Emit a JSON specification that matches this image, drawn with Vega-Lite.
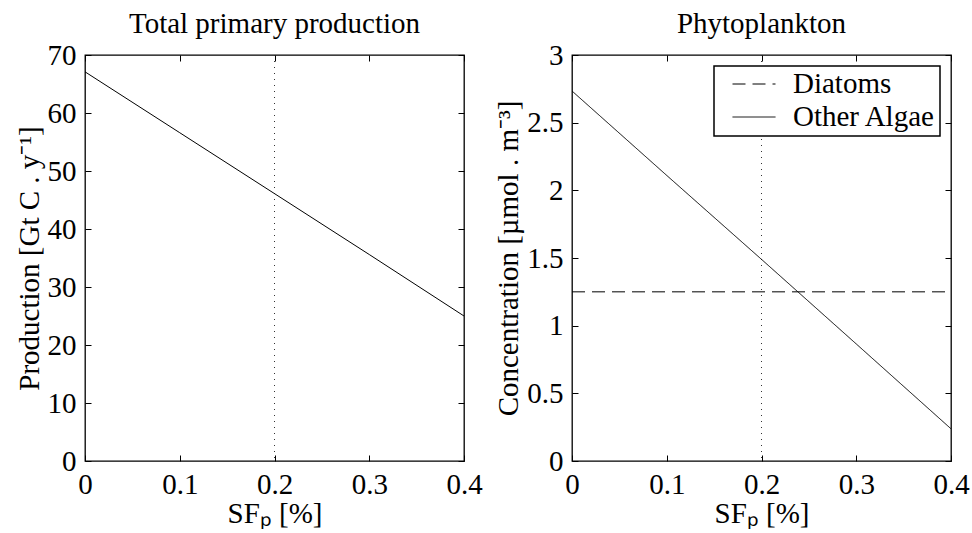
{
  "$schema": "https://vega.github.io/schema/vega-lite/v6.json",
  "background": "white",
  "padding": {"left": 14, "top": 9, "right": 0, "bottom": 0},
  "bounds": "flush",
  "spacing": 108,
  "resolve": {"scale": {"strokeDash": "independent"}, "legend": {"strokeDash": "independent"}},
  "datasets": {
    "prod": [
      {"sf": 0.0, "value": 67.1},
      {"sf": 0.1, "value": 56.6},
      {"sf": 0.2, "value": 46.1},
      {"sf": 0.3, "value": 35.6},
      {"sf": 0.4, "value": 25.0}
    ],
    "phyto": [
      {"sf": 0.0, "value": 1.25, "series": "Diatoms"},
      {"sf": 0.4, "value": 1.25, "series": "Diatoms"},
      {"sf": 0.0, "value": 2.734, "series": "Other Algae"},
      {"sf": 0.1, "value": 2.11, "series": "Other Algae"},
      {"sf": 0.2, "value": 1.49, "series": "Other Algae"},
      {"sf": 0.3, "value": 0.865, "series": "Other Algae"},
      {"sf": 0.4, "value": 0.238, "series": "Other Algae"}
    ],
    "ref": [{"sf": 0.2}]
  },
  "config": {
    "font": "Liberation Serif",
    "view": {"stroke": "black", "strokeWidth": 1.3},
    "axis": {
      "domain": false,
      "grid": false,
      "tickColor": "black",
      "tickSize": -6,
      "tickWidth": 1,
      "labelFont": "Liberation Serif",
      "labelFontSize": 29,
      "labelColor": "black",
      "labelPadding": 15,
      "format": "~r",
      "titleFont": "Liberation Serif",
      "titleFontSize": 29,
      "titleFontWeight": "normal",
      "titleColor": "black"
    },
    "title": {"font": "Liberation Serif", "fontSize": 29, "fontWeight": "normal", "color": "black", "offset": 2}
  },
  "hconcat": [
    {
      "width": 379,
      "height": 406,
      "title": "Total primary production",
      "layer": [
        {
          "data": {"name": "ref"},
          "mark": {"type": "rule", "color": "#333333", "strokeWidth": 1, "strokeDash": [1, 5]},
          "encoding": {
            "x": {"field": "sf", "type": "quantitative", "scale": {"domain": [0, 0.4]},
                  "axis": {"orient": "top", "labels": false, "title": null, "values": [0, 0.1, 0.2, 0.3, 0.4]}}
          }
        },
        {
          "data": {"name": "prod"},
          "mark": {"type": "line", "color": "black", "strokeWidth": 1},
          "encoding": {
            "x": {"field": "sf", "type": "quantitative", "scale": {"domain": [0, 0.4]},
                  "axis": {"orient": "bottom", "title": "SFₚ [%]", "values": [0, 0.1, 0.2, 0.3, 0.4], "labelFlush": false, "titlePadding": 0}},
            "y": {"field": "value", "type": "quantitative", "scale": {"domain": [0, 70]},
                  "axis": {"orient": "left", "title": "Production [Gt C . y⁻¹]", "values": [0, 10, 20, 30, 40, 50, 60, 70], "labelFlush": false, "titlePadding": 3}}
          }
        },
        {
          "data": {"name": "prod"},
          "mark": {"type": "line", "opacity": 0},
          "encoding": {
            "x": {"field": "sf", "type": "quantitative", "axis": null},
            "y": {"field": "value", "type": "quantitative",
                  "axis": {"orient": "right", "labels": false, "title": null, "values": [0, 10, 20, 30, 40, 50, 60, 70]}}
          }
        }
      ]
    },
    {
      "width": 379,
      "height": 406,
      "title": "Phytoplankton",
      "layer": [
        {
          "data": {"name": "ref"},
          "mark": {"type": "rule", "color": "#333333", "strokeWidth": 1, "strokeDash": [1, 5]},
          "encoding": {
            "x": {"field": "sf", "type": "quantitative", "scale": {"domain": [0, 0.4]},
                  "axis": {"orient": "top", "labels": false, "title": null, "values": [0, 0.1, 0.2, 0.3, 0.4]}}
          }
        },
        {
          "data": {"name": "phyto"},
          "mark": {"type": "line", "color": "black", "strokeWidth": 1},
          "encoding": {
            "x": {"field": "sf", "type": "quantitative", "scale": {"domain": [0, 0.4]},
                  "axis": {"orient": "bottom", "title": "SFₚ [%]", "values": [0, 0.1, 0.2, 0.3, 0.4], "labelFlush": false, "titlePadding": 0}},
            "y": {"field": "value", "type": "quantitative", "scale": {"domain": [0, 3]},
                  "axis": {"orient": "left", "title": "Concentration [µmol . m⁻³]", "values": [0, 0.5, 1, 1.5, 2, 2.5, 3], "labelFlush": false, "titlePadding": 3}},
            "strokeDash": {
              "field": "series", "type": "nominal",
              "scale": {"domain": ["Diatoms", "Other Algae"], "range": [[13, 7], [1, 0]]},
              "legend": {
                "title": null,
                "orient": "top-right",
                "offset": 11,
                "fillColor": "white",
                "strokeColor": "black",
                "padding": 4,
                "symbolType": "stroke",
                "symbolSize": 1849,
                "symbolOffset": 14,
                "symbolStrokeColor": "black",
                "symbolStrokeWidth": 1,
                "clipHeight": 28,
                "labelFont": "Liberation Serif",
                "labelFontSize": 29,
                "labelColor": "black",
                "labelOffset": 17,
                "labelExpr": "datum.label + '\u2002'",
                "rowPadding": 4,
                "encode": {"legend": {"update": {"strokeWidth": {"value": 1.5}}}}
              }
            },
            "detail": {"field": "series", "type": "nominal"}
          }
        },
        {
          "data": {"name": "phyto"},
          "mark": {"type": "line", "opacity": 0},
          "encoding": {
            "x": {"field": "sf", "type": "quantitative", "axis": null},
            "y": {"field": "value", "type": "quantitative",
                  "axis": {"orient": "right", "labels": false, "title": null, "values": [0, 0.5, 1, 1.5, 2, 2.5, 3]}},
            "detail": {"field": "series", "type": "nominal"}
          }
        }
      ]
    }
  ]
}
